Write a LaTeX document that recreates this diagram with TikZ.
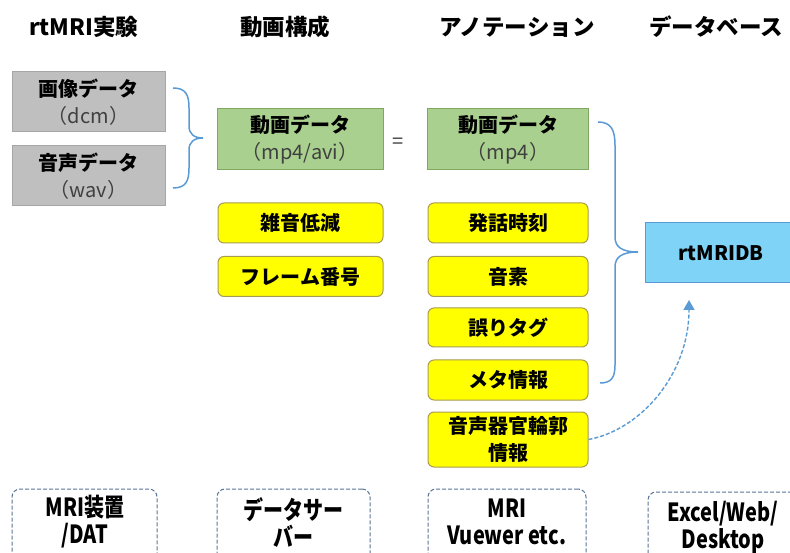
\documentclass[tikz,border=0pt]{standalone}
\usepackage{fontspec}
\setmainfont{Noto Sans CJK JP}
\newfontfamily\narrowjp[FakeStretch=0.8]{Noto Sans CJK JP}
\usetikzlibrary{arrows.meta}
\definecolor{grayfill}{HTML}{BFBFBF}
\definecolor{grayline}{HTML}{A6A6A6}
\definecolor{greenfill}{HTML}{A9D08E}
\definecolor{greenline}{HTML}{7FA860}
\definecolor{yellowfill}{HTML}{FFFF00}
\definecolor{yellowline}{HTML}{A89C50}
\definecolor{dbfill}{HTML}{7FD3F7}
\definecolor{dbline}{HTML}{5B9BD5}
\definecolor{bracecol}{HTML}{5B9BD5}
\definecolor{dashcol}{HTML}{5A7497}
\definecolor{subgray}{HTML}{404040}
\begin{document}
\begin{tikzpicture}[x=1pt,y=-1pt,
  header/.style={font=\fontsize{22.5}{26}\selectfont\bfseries, inner sep=0},
  databox/.style={draw=grayline, fill=grayfill, line width=1pt, minimum width=153pt, minimum height=60pt, align=center, inner sep=0, font=\fontsize{20}{27}\selectfont\bfseries},
  greenbox/.style={draw=greenline, fill=greenfill, line width=1pt, minimum height=61pt, align=center, inner sep=0, font=\fontsize{20}{27}\selectfont\bfseries},
  yellowbox/.style={draw=yellowline, fill=yellowfill, line width=1pt, rounded corners=6pt, minimum height=40pt, align=center, inner sep=0, font=\fontsize{20}{27}\selectfont\bfseries},
  toolbox/.style={draw=dashcol, dash pattern=on 4pt off 2pt, line width=1pt, rounded corners=8pt, minimum height=84pt, inner sep=0},
  tooltext/.style={align=center, inner sep=0, font=\narrowjp\fontsize{25}{27}\selectfont\bfseries},
  bracestyle/.style={draw=bracecol, line width=1.5pt}
]
\useasboundingbox (0,0) rectangle (790,553);
\fill[white] (0,0) rectangle (790,553);

% headers
\node[header] (h1) at (84,27) {rtMRI実験};
\node[header] (h2) at (285,27) {動画構成};
\node[header] (h3) at (517,27) {アノテーション};
\node[header] (h4) at (716,27) {データベース};

% column 1
\node[databox] (img) at (88.5,102) {画像データ\\{\mdseries\color{subgray}（dcm）}};
\node[databox] (snd) at (88.5,176) {音声データ\\{\mdseries\color{subgray}（wav）}};

% column 2
\node[greenbox, minimum width=166pt] (vid1) at (300,139.5) {動画データ\\{\mdseries\color{subgray}（mp4/avi）}};
\node[font=\fontsize{20}{24}\selectfont, text=subgray, inner sep=0] (eq) at (398,143) {=};
\node[yellowbox, minimum width=165pt] (noise) at (300.5,223) {雑音低減};
\node[yellowbox, minimum width=165pt] (frame) at (300.5,276.5) {フレーム番号};

% column 3
\node[greenbox, minimum width=161pt] (vid2) at (508,139.5) {動画データ\\{\mdseries\color{subgray}（mp4）}};
\node[yellowbox, minimum width=160pt] (utt) at (508,223) {発話時刻};
\node[yellowbox, minimum width=160pt] (phon) at (508,276.5) {音素};
\node[yellowbox, minimum width=160pt, minimum height=39pt] (err) at (508,327.5) {誤りタグ};
\node[yellowbox, minimum width=160pt] (meta) at (508,380) {メタ情報};
\node[yellowbox, minimum width=160pt, minimum height=55pt] (voc) at (508,439.5) {音声器官輪郭\\情報};

% database
\node[draw=dbline, fill=dbfill, line width=1pt, minimum width=152pt, minimum height=60pt, inner sep=0, font=\fontsize{20}{24}\selectfont\bfseries] (db) at (721,253) {rtMRIDB};

% bottom tool boxes (their lower part runs off the picture)
\node[toolbox, minimum width=145pt] (t1) at (84.5,531) {};
\node[tooltext] (t1t) at (85,522) {MRI装置\\/DAT};
\node[toolbox, minimum width=153pt] (t2) at (293.5,531) {};
\node[tooltext] (t2t) at (293.5,522) {データサー\\バー};
\node[toolbox, minimum width=158pt] (t3) at (507,531) {};
\node[tooltext] (t3t) at (507,522) {MRI\\Vuewer etc.};
\node[toolbox, minimum width=152pt] (t4) at (724,534) {};
\node[tooltext] (t4t) at (723,527) {Excel/Web/\\Desktop};

% left brace
\coordinate (lb) at (203,138);
\draw[bracestyle] (173,88) .. controls (186,88) and (189,95) .. (189,108) -- (189,126)
  .. controls (189,134) and (194,138) .. (lb)
  .. controls (194,138) and (189,142) .. (189,150) -- (189,168)
  .. controls (189,181) and (186,188) .. (173,188);

% right brace
\coordinate (rb) at (638,252);
\draw[bracestyle] (598,122) .. controls (611,122) and (615,130) .. (615,145) -- (615,237)
  .. controls (615,247) and (622,252) .. (rb)
  .. controls (622,252) and (615,257) .. (615,267) -- (615,365)
  .. controls (615,378) and (611,383) .. (600,383);

% dashed arrow
\coordinate (arrEnd) at (689,300);
\draw[draw=bracecol, line width=1.4pt, dash pattern=on 4pt off 2pt, -{Triangle[length=10pt,width=11pt]}]
  (voc.east) .. controls (640,430) and (689,375) .. (arrEnd);
\end{tikzpicture}
\end{document}
